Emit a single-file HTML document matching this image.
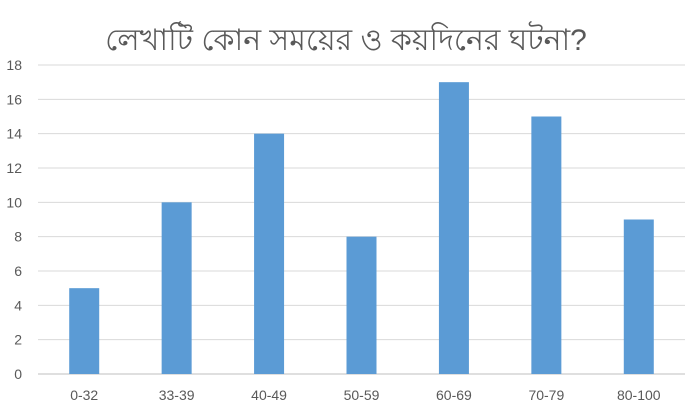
<!DOCTYPE html>
<html><head><meta charset="utf-8"><style>
body{margin:0;background:#fff;}
svg{display:block;font-family:"Liberation Sans",sans-serif;}
</style></head><body>
<svg id="chart" width="693" height="409">
<text x="346" y="50" text-anchor="middle" font-size="30" fill="#595959" font-family="'Liberation Sans','Noto Sans CJK SC',sans-serif">লেখাটি কোন সময়ের ও কয়দিনের ঘটনা?</text>
<g id="grid"></g><g id="bars"></g><g id="labels"></g>
</svg>
<script>
const categories=["0-32","33-39","40-49","50-59","60-69","70-79","80-100"];
const values=[5,10,14,8,17,15,9];
const yTicks=[0,2,4,6,8,10,12,14,16,18];
const ns="http://www.w3.org/2000/svg";
const x0=38,x1=685,yTop=65,yBot=374,yMax=18;
const band=(x1-x0)/categories.length,bw=30;
function y(v){return yBot-(v/yMax)*(yBot-yTop);}
function xc(i){return x0+band*(i+0.5);}
const grid=document.getElementById('grid'),bars=document.getElementById('bars'),labels=document.getElementById('labels');
yTicks.forEach(t=>{
 const l=document.createElementNS(ns,'line');
 l.setAttribute('x1',x0);l.setAttribute('x2',x1);l.setAttribute('y1',y(t));l.setAttribute('y2',y(t));
 l.setAttribute('stroke',t===0?'#bfbfbf':'#d9d9d9');l.setAttribute('stroke-width','1');
 
 
 grid.appendChild(l);
 const tx=document.createElementNS(ns,'text');
 tx.setAttribute('x',22);tx.setAttribute('y',y(t)+5);tx.setAttribute('text-anchor','end');
 tx.setAttribute('font-size','14');tx.setAttribute('fill','#595959');tx.textContent=t;
 
 
 labels.appendChild(tx);
});
categories.forEach((c,i)=>{
 const r=document.createElementNS(ns,'rect');
 r.setAttribute('x',xc(i)-bw/2);r.setAttribute('width',bw);
 r.setAttribute('y',y(values[i]));r.setAttribute('height',yBot-y(values[i]));
 r.setAttribute('fill','#5b9bd5');
 
 
 bars.appendChild(r);
 const tx=document.createElementNS(ns,'text');
 tx.setAttribute('x',xc(i));tx.setAttribute('y',400);tx.setAttribute('text-anchor','middle');
 tx.setAttribute('font-size','14');tx.setAttribute('fill','#595959');tx.textContent=c;
 
 
 labels.appendChild(tx);
});
</script>
</body></html>
